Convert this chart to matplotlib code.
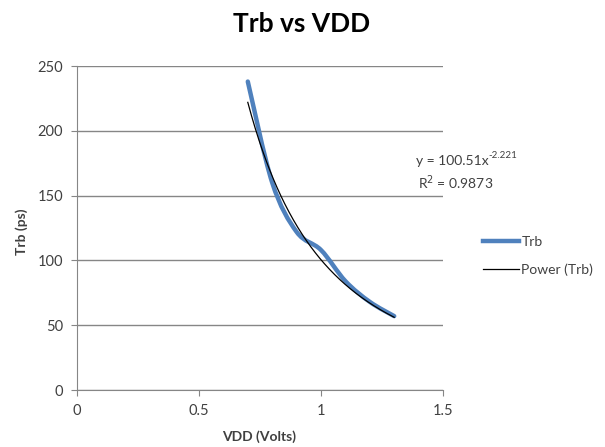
import numpy as np
import matplotlib
matplotlib.use("Agg")
import matplotlib.pyplot as plt
from matplotlib.path import Path
from matplotlib.patches import PathPatch
from matplotlib.lines import Line2D

plt.rcParams['font.family'] = ['Lato', 'DejaVu Sans']

# data
vdd = [0.7, 0.8, 0.9, 1.0, 1.1, 1.2, 1.3]
trb = [238, 160, 122, 108, 84, 68, 57]

# power trendline shown on the chart
fit_a = 100.51
fit_b = -2.221
r2 = 0.9873

xticks = [0, 0.5, 1, 1.5]
yticks = [0, 50, 100, 150, 200, 250]

blue = '#4F81BD'
grid_col = '#868686'
txt_col = '#404040'

fig = plt.figure(figsize=(6.05, 4.47), dpi=100)
ax = fig.add_axes([77/605, 57/447, 366/605, 324/447])

# excel style smoothed line: catmull-rom as cubic bezier
pts = np.column_stack([vdd, trb]).astype(float)
verts = [tuple(pts[0])]
codes = [Path.MOVETO]
n = len(pts)
for i in range(n - 1):
    p0 = pts[max(i - 1, 0)]
    p1 = pts[i]
    p2 = pts[i + 1]
    p3 = pts[min(i + 2, n - 1)]
    c1 = p1 + (p2 - p0) / 6.0
    c2 = p2 - (p3 - p1) / 6.0
    verts += [tuple(c1), tuple(c2), tuple(p2)]
    codes += [Path.CURVE4] * 3
patch = PathPatch(Path(verts, codes), facecolor='none', edgecolor=blue,
                  lw=3.2, capstyle='round', joinstyle='round', zorder=3)
ax.add_patch(patch)

# trendline
xf = np.linspace(vdd[0], vdd[-1], 200)
ax.plot(xf, fit_a * xf ** fit_b, color='black', lw=0.9, zorder=4)

ax.set_xlim(0, 1.5)
ax.set_ylim(0, 250)
ax.set_xticks(xticks)
ax.set_xticklabels(['0', '0.5', '1', '1.5'])
ax.set_yticks(yticks)
ax.yaxis.grid(True, color=grid_col, lw=1)
ax.set_axisbelow(True)
for s in ['top', 'right']:
    ax.spines[s].set_visible(False)
for s in ['left', 'bottom']:
    ax.spines[s].set_color(grid_col)
ax.tick_params(axis='both', colors=grid_col, labelcolor=txt_col,
               labelsize=10.5, length=4, direction='out', pad=6)

fig.text(302/605, 1 - 24/447, 'Trb vs VDD', ha='center', va='center',
         fontsize=19, fontweight='bold', color='black')
fig.text(259/605, 1 - 437/447, 'VDD (Volts)', ha='center', va='center',
         fontsize=10, fontweight='bold', color=txt_col)
fig.text(22/605, 1 - 232/447, 'Trb (ps)', ha='center', va='center',
         rotation=90, fontsize=10, fontweight='bold', color=txt_col)

# trendline equation, exponent as small raised text
fig.text(489/605, 1 - 161/447, 'y = %.2fx' % fit_a, ha='right', va='center',
         fontsize=10, color=txt_col)
fig.text(488.5/605, 1 - 156/447, '%.3f' % fit_b, ha='left', va='center',
         fontsize=7, color=txt_col)
fig.text(456/605, 1 - 183/447, 'R$^{2}$ = %.4f' % r2,
         ha='center', va='center', fontsize=10, color=txt_col)

handles = [Line2D([], [], color=blue, lw=3.2),
           Line2D([], [], color='black', lw=0.9)]
fig.legend(handles, ['Trb', 'Power (Trb)'], loc='center left',
           bbox_to_anchor=(470/605, 1 - 256/447), frameon=False,
           fontsize=10, labelcolor=txt_col, handlelength=2.6,
           handletextpad=0.2, labelspacing=1.1)

fig.savefig('out.png', dpi=100)
